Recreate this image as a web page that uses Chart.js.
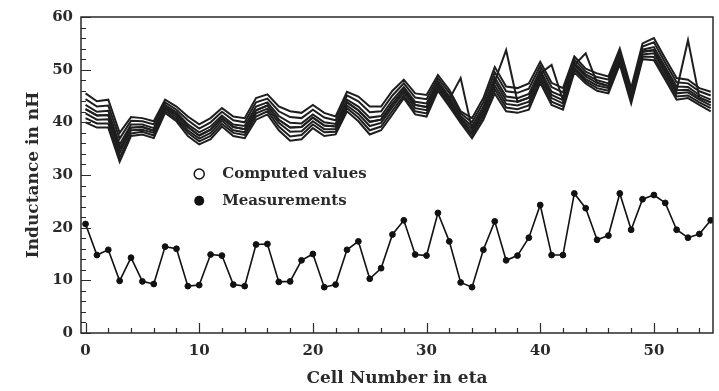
<!DOCTYPE html>
<html>
<head>
<meta charset="utf-8">
<script src="https://cdn.jsdelivr.net/npm/chart.js@4/dist/chart.umd.min.js"></script>
<style>
html, body { margin: 0; padding: 0; background: #fff; }
</style>
</head>
<body>
<canvas id="myChart" width="719" height="391"></canvas>
<script>
// cell numbers 0..55
var cells = [0,1,2,3,4,5,6,7,8,9,10,11,12,13,14,15,16,17,18,19,20,21,22,23,24,25,26,27,
    28,29,30,31,32,33,34,35,36,37,38,39,40,41,42,43,44,45,46,47,48,49,50,51,52,53,54,55];

var measurements = [20.7,14.8,15.8,9.9,14.3,9.8,9.3,16.4,16.0,8.9, 9.1,14.9,14.7,9.2,8.9,16.8,16.9,9.7,9.8,13.8,
    15.0,8.7,9.2,15.8,17.4,10.3,12.3,18.7,21.4,14.9, 14.7,22.8,17.4,9.6,8.7,15.8,21.2,13.8,14.7,18.1,
    24.3,14.8,14.8,26.5,23.7,17.7,18.5,26.5,19.6,25.4, 26.2,24.7,19.6,18.1,18.8,21.4];

// computed values (bundle of curves)
var computedA = [45.5,44.0,44.3,38.0,41.0,40.8,40.2,44.3,43.0,41.1, 39.6,40.8,42.7,41.1,40.8,44.6,45.3,43.0,42.1,41.8,
    43.3,41.8,41.1,45.8,44.9,43.0,43.0,46.0,48.1,45.5, 45.2,49.0,46.2,42.1,40.8,44.6,50.5,46.8,46.5,47.4,
    51.5,47.5,46.5,52.5,50.2,49.3,48.7,54.0,46.5,55.0, 56.0,52.1,48.4,48.1,46.5,45.8];
var computedB = [44.4,43.0,43.2,36.9,40.3,40.2,39.6,43.8,42.4,40.4, 38.8,40.0,42.0,40.4,40.0,43.8,44.5,42.1,41.0,40.8,
    42.4,40.9,40.4,45.1,44.0,41.9,42.1,45.1,47.4,44.7, 44.4,48.4,45.6,41.7,40.0,43.8,49.5,45.9,45.6,46.4,
    50.7,46.7,45.7,51.9,49.6,48.6,48.1,53.4,45.9,54.4, 55.2,51.3,47.6,47.4,45.9,45.1];
var computedC = [43.3,42.0,42.2,35.8,39.6,39.6,38.9,43.3,41.9,39.6, 38.1,39.2,41.3,39.6,39.3,43.0,43.8,41.2,39.9,39.8,
    41.5,40.0,39.7,44.3,43.0,40.9,41.2,44.2,46.7,43.9, 43.6,47.8,44.9,41.2,39.3,43.0,48.5,44.9,44.6,45.4,
    49.9,45.8,44.9,51.3,49.1,48.0,47.4,52.8,45.3,53.8, 54.3,50.5,46.8,46.7,45.2,44.3];
var computedD = [42.5,41.3,41.4,35.0,39.0,39.1,38.4,42.9,41.5,39.1, 37.5,38.6,40.8,39.1,38.7,42.3,43.2,40.5,39.0,39.1,
    40.9,39.4,39.2,43.8,42.3,40.1,40.5,43.5,46.2,43.3, 42.9,47.4,44.4,40.9,38.7,42.3,47.8,44.2,43.9,44.7,
    49.3,45.2,44.2,50.9,48.7,47.5,46.9,52.4,44.9,53.4, 53.7,49.9,46.1,46.2,44.7,43.8];
var computedE = [41.7,40.5,40.6,34.2,38.5,38.6,38.0,42.6,41.0,38.5, 36.9,38.0,40.3,38.5,38.1,41.7,42.6,39.9,38.2,38.3,
    40.2,38.7,38.7,43.2,41.6,39.3,39.9,42.9,45.7,42.7, 42.3,46.9,44.0,40.6,38.1,41.7,47.0,43.5,43.2,43.9,
    48.7,44.6,43.6,50.4,48.2,47.0,46.5,51.9,44.5,52.9, 53.1,49.3,45.5,45.7,44.3,43.2];
var computedF = [40.8,39.8,39.8,33.3,37.9,38.2,37.5,42.2,40.6,38.0, 36.4,37.4,39.7,38.0,37.6,41.1,42.1,39.2,37.3,37.6,
    39.6,38.1,38.2,42.7,40.9,38.5,39.2,42.2,45.1,42.1, 41.7,46.5,43.5,40.2,37.6,41.1,46.3,42.8,42.5,43.2,
    48.1,43.9,43.0,50.0,47.8,46.5,46.0,51.5,44.0,52.5, 52.4,48.7,44.9,45.1,43.8,42.7];
var computedG = [40.0,39.0,39.0,32.5,37.4,37.7,37.0,41.8,40.2,37.4, 35.8,36.8,39.2,37.4,37.0,40.5,41.5,38.5,36.5,36.8,
    38.9,37.4,37.7,42.1,40.2,37.7,38.5,41.5,44.6,41.5, 41.1,46.0,43.0,39.9,37.0,40.5,45.5,42.1,41.8,42.4,
    47.5,43.3,42.4,49.5,47.4,46.0,45.5,51.0,43.6,52.0, 51.8,48.1,44.3,44.6,43.3,42.1];
var computedH = [42.5,41.3,41.4,35.0,39.0,39.1,38.4,42.9,41.5,39.1, 37.5,38.6,40.8,39.1,38.7,42.3,43.2,40.5,39.0,39.1,
    40.9,39.4,39.2,43.8,42.3,40.1,40.5,43.5,46.2,43.3, 42.9,47.4,44.4,48.4,38.7,42.3,47.8,53.7,43.9,44.7,
    49.3,50.9,44.2,50.9,53.1,47.5,46.9,52.4,44.9,53.4, 53.7,49.9,46.1,55.6,44.7,43.8];

var xTicks = [0, 10, 20, 30, 40, 50];
var yTicks = [0, 10, 20, 30, 40, 50, 60];
var legendLabels = ["Computed values", "Measurements"];

function puntos(valores) {
    return cells.map(function (c, i) { return { x: c, y: valores[i] }; });
}

var computedAll = [computedA, computedB, computedC, computedD, computedE, computedF, computedG, computedH];
var datasets = computedAll.map(function (serie) {
    return {
        data: puntos(serie),
        borderColor: '#1e1e1e',
        borderWidth: 2,
        pointRadius: 0,
        fill: false,
        tension: 0
    };
});
datasets.push({
    data: puntos(measurements),
    borderColor: '#111',
    borderWidth: 1.6,
    pointRadius: 2.9,
    pointBorderWidth: 1,
    pointBackgroundColor: '#111',
    pointBorderColor: '#111',
    fill: false,
    tension: 0
});

var serif = '"DejaVu Serif", "Liberation Serif", serif';

// frame, inward ticks and legend
var marco = {
    id: 'marco',
    afterDatasetsDraw: function (chart) {
        var ctx = chart.ctx, a = chart.chartArea;
        var xs = chart.scales.x, ys = chart.scales.y;
        ctx.save();
        ctx.strokeStyle = '#2a2a2a';
        ctx.lineWidth = 1.5;
        ctx.strokeRect(a.left, a.top, a.right - a.left, a.bottom - a.top);
        ctx.lineWidth = 1.2;
        ctx.beginPath();
        for (var v = 0; v <= 60; v += 2) {
            var py = Math.round(ys.getPixelForValue(v)) + 0.5;
            var len = (v % 10 === 0) ? 10 : 5;
            ctx.moveTo(a.left, py);
            ctx.lineTo(a.left + len, py);
        }
        for (var u = 0; u <= 54; u += 2) {
            var px = Math.round(xs.getPixelForValue(u)) + 0.5;
            var l2 = (u % 10 === 0) ? 10 : 5;
            ctx.moveTo(px, a.bottom);
            ctx.lineTo(px, a.bottom - l2);
        }
        ctx.stroke();

        // legend
        var lx = xs.getPixelForValue(10.0);
        var ly1 = ys.getPixelForValue(30.2);
        var ly2 = ys.getPixelForValue(25.1);
        ctx.lineWidth = 1.5;
        ctx.strokeStyle = '#111';
        ctx.fillStyle = '#fff';
        ctx.beginPath();
        ctx.arc(lx, ly1, 5, 0, Math.PI * 2);
        ctx.fill();
        ctx.stroke();
        ctx.fillStyle = '#111';
        ctx.beginPath();
        ctx.arc(lx, ly2, 5, 0, Math.PI * 2);
        ctx.fill();
        ctx.font = 'bold 15px ' + serif;
        ctx.fillStyle = '#2a2a2a';
        ctx.textBaseline = 'middle';
        ctx.fillText(legendLabels[0], lx + 23, ly1);
        ctx.fillText(legendLabels[1], lx + 23, ly2);
        ctx.restore();
    }
};

var ctx = document.getElementById('myChart').getContext('2d');
var chart = new Chart(ctx, {
    type: 'line',
    data: { datasets: datasets },
    options: {
        responsive: false,
        animation: false,
        layout: { padding: { top: 15, right: 6, left: 0, bottom: 0 } },
        plugins: { legend: { display: false }, tooltip: { enabled: false } },
        scales: {
            x: {
                type: 'linear',
                min: -0.4,
                max: 55.2,
                afterBuildTicks: function (scale) {
                    scale.ticks = xTicks.map(function (v) { return { value: v }; });
                },
                afterFit: function (scale) { scale.height = 58; },
                grid: { display: false, drawTicks: false },
                border: { display: false },
                ticks: {
                    padding: 9,
                    color: '#2a2a2a',
                    font: { family: serif, size: 15, weight: 'bold' }
                },
                title: {
                    display: true,
                    text: 'Cell Number in eta',
                    color: '#2a2a2a',
                    padding: { top: 2, bottom: 2 },
                    font: { family: serif, size: 17, weight: 'bold' }
                }
            },
            y: {
                type: 'linear',
                min: 0,
                max: 60,
                afterBuildTicks: function (scale) {
                    scale.ticks = yTicks.map(function (v) { return { value: v }; });
                },
                afterFit: function (scale) { scale.width = 81; },
                grid: { display: false, drawTicks: false },
                border: { display: false },
                ticks: {
                    padding: 8,
                    color: '#2a2a2a',
                    font: { family: serif, size: 15, weight: 'bold' }
                },
                title: {
                    display: true,
                    text: 'Inductance in nH',
                    color: '#2a2a2a',
                    padding: { top: 23, bottom: 0 },
                    font: { family: serif, size: 17, weight: 'bold' }
                }
            }
        }
    },
    plugins: [marco]
});
</script>
</body>
</html>
